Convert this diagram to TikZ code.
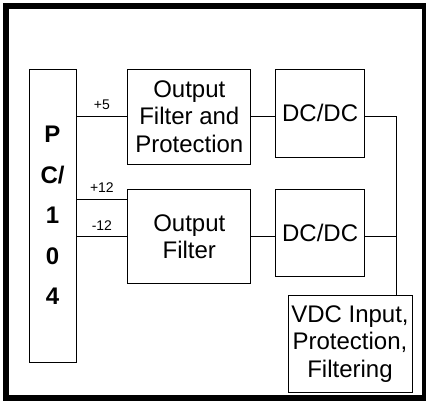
\documentclass[tikz,border=0pt]{standalone}
\usepackage{fontspec}
\setmainfont{Liberation Sans}
\usetikzlibrary{positioning}
\tikzstyle{board} = [rectangle, draw=black, line width=0.8pt, minimum width=47pt, minimum height=293pt, align=center, font=\fontsize{24}{40.5}\selectfont\bfseries]
\tikzstyle{block} = [rectangle, draw=black, line width=0.8pt, inner sep=0pt, align=center, font=\fontsize{24}{27.5}\selectfont]
\tikzstyle{wire} = [line width=0.8pt]
\tikzstyle{rail} = [font=\fontsize{14}{16}\selectfont, above=5pt, inner sep=1pt]

\begin{document}
\begin{tikzpicture}[x=1pt, y=1pt]
	\useasboundingbox (0,0) rectangle (426,-403);
	\draw [line width=5.5pt] (6,-6) rectangle (424.5,-398); % outer frame
	
	\node (pc) [board] at (52.5,-215.5) {P\\C/\\1\\0\\4};
	\node (ofp) [block, minimum width=123pt, minimum height=95pt, right=51pt of pc.north east, anchor=north west] {Output\\Filter and\\Protection};
	\node (dcA) [block, minimum width=89pt, minimum height=88pt, right=24pt of ofp.north east, anchor=north west] {DC/DC};
	\node (of) [block, minimum width=123pt, minimum height=94pt, below=25pt of ofp] {Output\\Filter};
	\node (dcB) [block, minimum width=89pt, minimum height=87pt, below=32pt of dcA] {DC/DC};
	\node (vdc) [block, minimum width=124pt, minimum height=97pt, below=18pt of dcB.south east, xshift=-15pt] {VDC Input,\\Protection,\\Filtering};
	
	\coordinate (bus) at ([xshift=-16pt]vdc.north east);
	\coordinate (hi) at ([yshift=-10pt]of.north west);
	
	\draw [wire] (pc.east |- ofp.west) -- node[rail] {+5} (ofp.west);
	\draw [wire] (pc.east |- hi) -- node[rail] {+12} (hi);
	\draw [wire] (pc.east |- of.west) -- node[rail] {-12} (of.west);
	\draw [wire] (ofp.east) -- (ofp.east -| dcA.west);
	\draw [wire] (of.east) -- (of.east -| dcB.west);
	\draw [wire] (ofp.east -| dcA.east) -| (bus);
	\draw [wire] (of.east -| dcB.east) -- (of.east -| bus);
	
\end{tikzpicture}
\end{document}
